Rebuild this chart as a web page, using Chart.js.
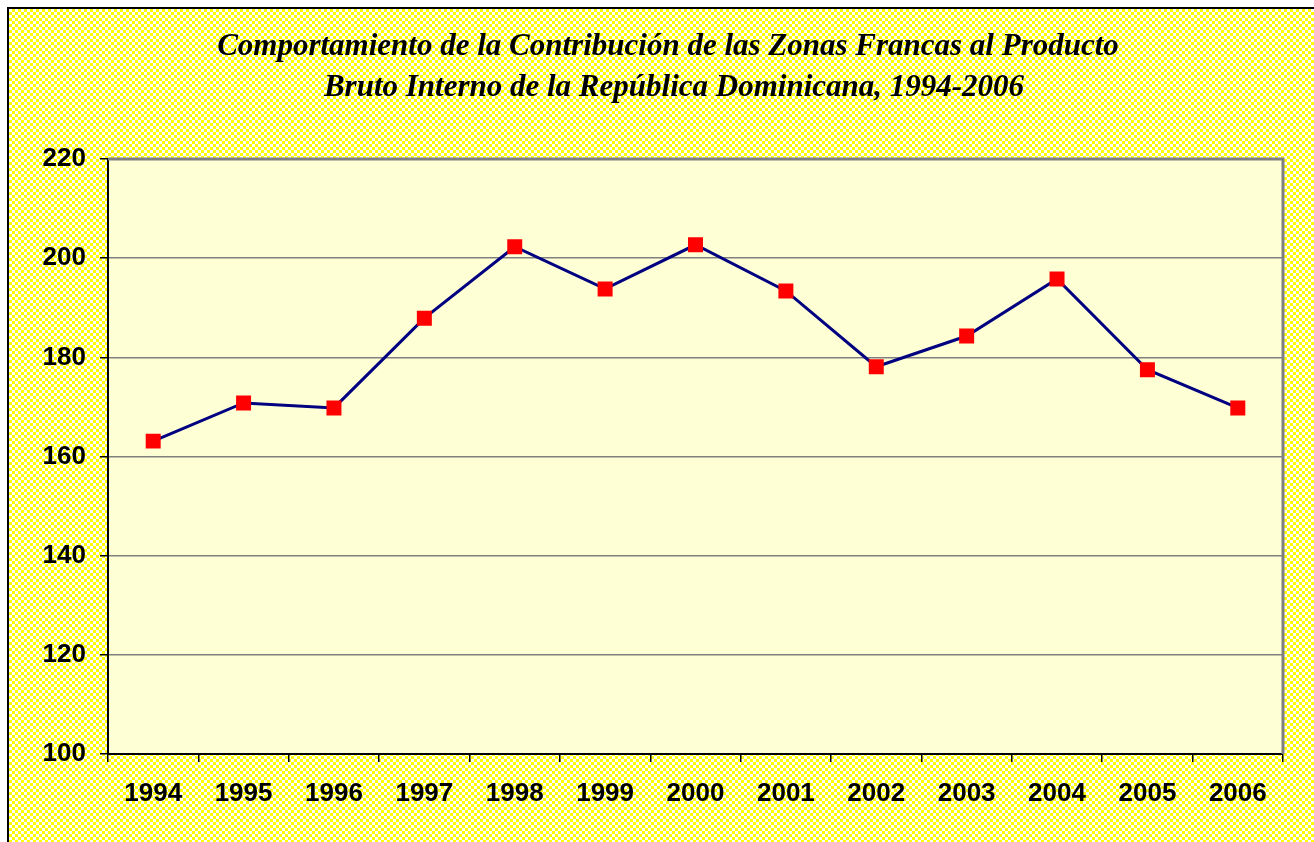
<!DOCTYPE html>
<html>
<head>
<meta charset="utf-8">
<script src="https://cdn.jsdelivr.net/npm/chart.js@4/dist/chart.umd.min.js"></script>
<style>
  html, body { margin: 0; padding: 0; background: #fff; }
  #wrap { width: 1314px; height: 842px; }
</style>
</head>
<body>
<div id="wrap"><canvas id="pib_Chart" width="1314" height="842"></canvas></div>
<script>
// datos
let years = ['1994','1995','1996','1997','1998','1999','2000','2001','2002','2003','2004','2005','2006'];
let zf_values = [163.1, 170.8, 169.8, 187.9, 202.3, 193.8, 202.7, 193.4, 178.1, 184.3, 195.8, 177.5, 169.8];
let title_lines = ['Comportamiento de la Contribución de las Zonas Francas al Producto',
                   'Bruto Interno de la República Dominicana, 1994-2006'];

// patron amarillo a cuadros del fondo
function makePattern(ctx) {
    let c = document.createElement('canvas');
    c.width = 6; c.height = 6;
    let p = c.getContext('2d');
    p.fillStyle = '#ffff00';
    p.fillRect(0, 0, 6, 6);
    p.fillStyle = '#ffffff';
    p.fillRect(0, 0, 3, 3);
    p.fillRect(3, 3, 3, 3);
    return ctx.createPattern(c, 'repeat');
}

let bgPlugin = {
    id: 'bg_plugin',
    beforeDraw(chart) {
        let ctx = chart.ctx;
        let a = chart.chartArea;
        ctx.save();
        ctx.fillStyle = '#ffffff';
        ctx.fillRect(0, 0, chart.width, chart.height);
        ctx.fillStyle = makePattern(ctx);
        ctx.fillRect(9, 9, chart.width - 9, chart.height - 9);
        ctx.strokeStyle = '#000000';
        ctx.lineWidth = 2;
        ctx.beginPath();
        ctx.moveTo(8, chart.height);
        ctx.lineTo(8, 8);
        ctx.lineTo(chart.width, 8);
        ctx.stroke();
        ctx.fillStyle = '#ffffd5';
        ctx.fillRect(a.left, a.top, a.right - a.left, a.bottom - a.top);

        // titulo
        ctx.fillStyle = '#000000';
        ctx.font = 'italic bold 31px "Liberation Serif", "Times New Roman", serif';
        ctx.textAlign = 'center';
        ctx.textBaseline = 'middle';
        ctx.fillText(title_lines[0], 668, 47);
        ctx.fillText(title_lines[1], 674, 88);
        ctx.restore();
    },
    beforeDatasetsDraw(chart) {
        let ctx = chart.ctx;
        let a = chart.chartArea;
        ctx.save();
        ctx.strokeStyle = '#808080';
        ctx.lineWidth = 3;
        ctx.beginPath();
        ctx.moveTo(a.left, a.top);
        ctx.lineTo(a.right, a.top);
        ctx.lineTo(a.right, a.bottom);
        ctx.stroke();
        ctx.restore();
    }
};

let ctx = document.getElementById('pib_Chart');
let graphData = {
    type: 'line',
    data: {
        labels: years,
        datasets: [{
            label: 'Zonas Francas',
            data: zf_values,
            borderColor: '#000080',
            backgroundColor: '#ff0000',
            borderWidth: 3,
            pointStyle: 'rect',
            pointRadius: 10.6,
            pointBorderWidth: 0,
            pointBackgroundColor: '#ff0000',
            tension: 0,
        }]
    },
    options: {
        responsive: false,
        animation: false,
        layout: { padding: { left: 0, right: 31, top: 159, bottom: 0 } },
        plugins: {
            legend: { display: false },
            tooltip: { enabled: false },
            title: { display: false }
        },
        scales: {
            y: {
                min: 100,
                max: 220,
                ticks: {
                    stepSize: 20,
                    color: '#000000',
                    padding: 14,
                    font: { family: '"Liberation Sans", Arial, sans-serif', size: 26, weight: 'bold' },
                },
                grid: {
                    color: '#808080',
                    lineWidth: 1.5,
                    tickColor: '#000000',
                    tickLength: 8,
                },
                border: { color: '#000000', width: 2 },
                afterFit(scale) { scale.width = 108; }
            },
            x: {
                offset: true,
                ticks: {
                    color: '#000000',
                    padding: 16,
                    maxRotation: 0,
                    font: { family: '"Liberation Sans", Arial, sans-serif', size: 26, weight: 'bold' },
                },
                grid: {
                    offset: true,
                    drawOnChartArea: false,
                    tickColor: '#000000',
                    tickLength: 8,
                    lineWidth: 1.5,
                },
                border: { color: '#000000', width: 2 },
                afterFit(scale) { scale.height = 88; }
            }
        }
    },
    plugins: [bgPlugin]
};

let pib_Chart = new Chart(ctx, graphData);
</script>
</body>
</html>
